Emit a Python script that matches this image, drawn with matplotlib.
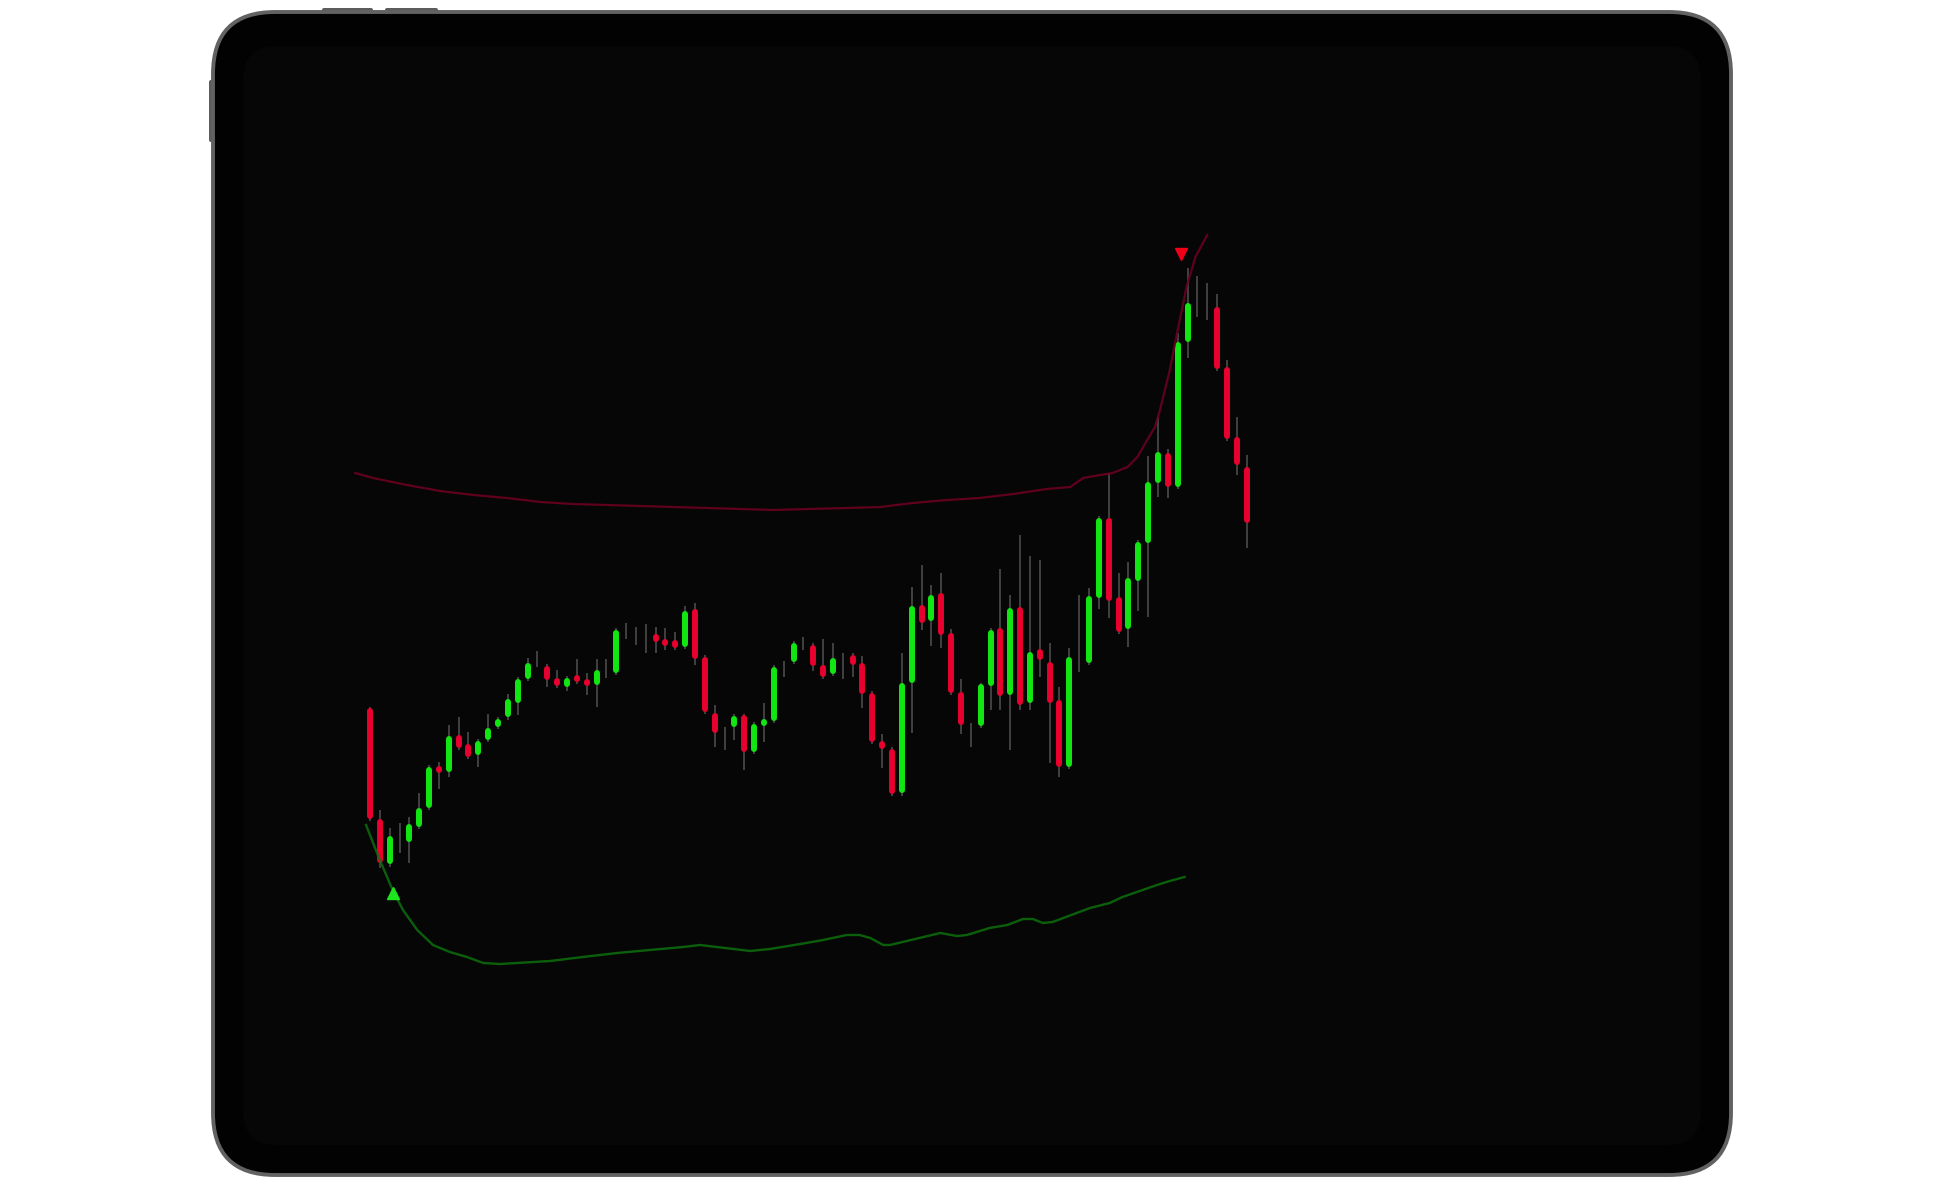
import matplotlib
matplotlib.use("Agg")
import matplotlib.pyplot as plt
from matplotlib.patches import FancyBboxPatch
import numpy as np

# ---------------- data (price units, one candle per index) ----------------
opens  = [292,181,136,164,158,173,192,232,228,265,256,245,260,273,283,297,321,339,334,322,
          313,325,318,315,327,327,371,371,367,366,359,360,353,391,343,287,268,273,285,248,
          274,279,331,338,357,355,335,326,342,345,337,307,259,251,207,317,395,379,407,367,
          308,275,274,314,372,305,393,297,351,338,300,233,343,337,402,482,403,371,419,457,
          517,547,513,658,698,689,693,633,563,533]
highs  = [293,190,172,177,183,207,235,238,275,283,268,261,286,283,306,323,342,349,336,330,
          324,341,327,341,341,372,377,373,376,373,372,368,394,397,345,295,273,286,286,278,
          297,335,339,359,363,357,361,357,347,347,344,309,266,253,347,413,435,415,427,371,
          321,277,317,372,431,405,465,444,440,357,313,352,405,412,484,527,427,438,460,544,
          583,551,667,732,724,717,706,640,583,545]
lows   = [179,132,133,147,137,171,190,211,223,250,241,233,258,271,280,285,319,333,313,312,
          309,316,305,293,322,325,361,355,347,347,350,350,351,335,286,253,250,260,230,246,
          258,277,323,336,350,329,321,324,321,323,292,256,232,204,204,267,370,354,352,305,
          266,253,272,290,290,250,290,290,323,237,223,231,328,335,391,382,366,353,389,383,
          503,502,511,642,683,680,629,559,525,452]
closes = [181,137,164,160,176,192,233,229,264,252,243,259,272,281,301,321,337,335,320,314,
          322,318,317,330,333,370,369,367,367,358,356,352,389,341,288,267,272,284,248,276,
          281,333,337,357,353,334,323,342,342,335,306,258,251,206,317,394,377,405,365,307,
          275,273,316,370,304,392,295,348,340,297,233,343,337,404,482,399,368,422,458,518,
          548,513,658,697,692,695,631,561,535,477]

# upper / lower envelope bands (candle index position, price)
upper_pos = [-1.5,0.3,3.76,7.1,10.5,13.9,17.3,20.6,24.1,27.4,30.8,34.2,37.6,40.9,44.5,48.4,
             51.8,55.1,58.6,61.9,65.3,68.7,71.1,72.4,74.1,75.4,76.9,77.9,78.9,79.7,80.2,
             81.2,82.0,82.9,83.8,85.0]
upper_val = [527,522,515,509,505,502,498,496,495,494,493,492,491,490,491,492,493,497,500,
             502,506,511,513,522,525,527,533,543,560,573,590,630,670,713,743,765]
lower_pos = [-0.4,1.0,2.3,3.35,4.8,6.4,8.1,9.85,11.5,13.2,14.9,18.3,21.6,25.1,28.4,31.8,
             33.5,35.2,38.6,40.6,43.7,46.0,48.4,49.7,50.8,52.1,52.8,54.5,57.9,59.6,60.6,
             62.9,64.7,66.3,67.3,68.3,69.3,73.1,75.1,76.4,79.9,81.2,82.7]
lower_val = [175,140,110,90,70,55,48,43,37,36,37,39,43,47,50,53,55,53,49,51,56,60,65,65,
             62,55,55,59,67,64,65,72,75,81,81,77,78,92,97,103,115,119,123]

# signals
buy_pos, buy_val = [2.3], [107]
sell_pos, sell_val = [82.3], [746]

# ---------------- styles ----------------
UP = "#12e612"
DOWN = "#e8002e"
FLAT = "#8a8a8a"
WICK = "#4e4e4e"

W, H = 1946, 1191
fig = plt.figure(figsize=(W / 100, H / 100), dpi=100)
fig.patch.set_facecolor("white")

# device frame (decoration)
deco = fig.add_axes([0, 0, 1, 1])
deco.set_xlim(0, W)
deco.set_ylim(H, 0)
deco.axis("off")
for (bx, by, bw, bh) in [(322, 8, 51, 6), (385, 8, 53, 6), (209, 80, 5, 62)]:
    deco.add_patch(FancyBboxPatch((bx, by), bw, bh, boxstyle="round,pad=0,rounding_size=2",
                                  facecolor="#5c5c5c", edgecolor="none", zorder=1))
deco.add_patch(FancyBboxPatch((213, 12), 1518, 1163, boxstyle="round,pad=0,rounding_size=62",
                              facecolor="#020202", edgecolor="#626262", linewidth=2.8, zorder=2))
deco.add_patch(FancyBboxPatch((243, 46), 1458, 1099, boxstyle="round,pad=0,rounding_size=34",
                              facecolor="#060606", edgecolor="none", zorder=3))

# chart
ax = fig.add_axes([0, 0, 1, 1])
ax.patch.set_alpha(0)
ax.axis("off")
ax.set_xlim(-37.56, 160.0)
ax.set_ylim(-191, 1000)

n = len(opens)
x = np.arange(n)
o = np.array(opens, float)
c = np.array(closes, float)
hi = np.array(highs, float)
lo = np.array(lows, float)

ax.vlines(x, lo, hi, color=WICK, linewidth=1.15, zorder=2)

r = 3.0  # cap radius in price units (1 unit = 1 px)
cols = [UP if cc > oo else (DOWN if cc < oo else FLAT) for oo, cc in zip(o, c)]
bot = np.minimum(o, c)
top = np.maximum(o, c)
mid = (bot + top) / 2
b0 = np.where(top - bot > 2 * r, bot + r, mid - 0.05)
b1 = np.where(top - bot > 2 * r, top - r, mid + 0.05)
for i in range(n):
    lw = 4.3 if cols[i] != FLAT else 3.2
    ax.plot([x[i], x[i]], [b0[i], b1[i]], color=cols[i], linewidth=lw,
            solid_capstyle="round", zorder=3)

ax.plot(upper_pos, upper_val, color="#6a0020", linewidth=1.6, alpha=0.9, zorder=4,
        solid_joinstyle="round")
ax.plot(lower_pos, lower_val, color="#0d700d", linewidth=1.7, alpha=0.85, zorder=4,
        solid_joinstyle="round")

ax.plot(buy_pos, buy_val, marker="^", color="#1ee61e", markersize=8, linestyle="none", zorder=5)
ax.plot(sell_pos, sell_val, marker="v", color="#f00018", markersize=8, linestyle="none", zorder=5)

fig.savefig("out.png", dpi=100, facecolor="white")
